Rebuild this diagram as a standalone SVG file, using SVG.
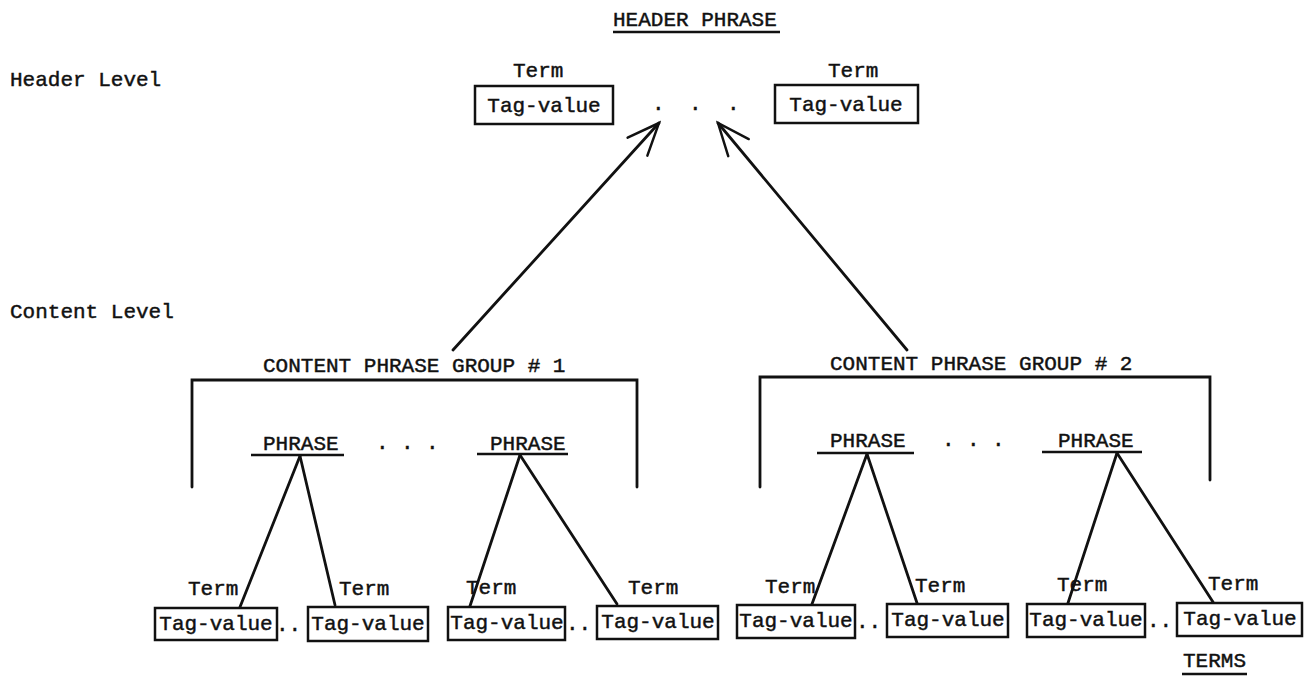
<svg xmlns="http://www.w3.org/2000/svg" width="1304" height="677" viewBox="0 0 1304 677">
<defs>
<style>
.t{font-family:"Liberation Mono","Courier New",monospace;font-size:21px;fill:#111;stroke:#111;stroke-width:0.45}
.m{text-anchor:middle}
.box{fill:none;stroke:#111;stroke-width:2.5}
.ln{fill:none;stroke:#111;stroke-width:2.8;stroke-linecap:round}
.ul{fill:none;stroke:#111;stroke-width:2.4}
</style>
<marker id="vhead" markerUnits="userSpaceOnUse" markerWidth="80" markerHeight="80" refX="0" refY="0" viewBox="-45 -40 90 80" orient="auto" overflow="visible">
<path d="M-36,-15 L0,0 L-36,15" fill="none" stroke="#111" stroke-width="2.8" stroke-linecap="round"/>
</marker>
</defs>
<rect width="1304" height="677" fill="#fff"/>

<g id="header-phrase">
<text class="t" x="613" y="26">HEADER PHRASE</text>
<line class="ul" x1="613" y1="32" x2="780" y2="32"/>
</g>
<g id="level-labels">
<text class="t" x="10" y="86">Header Level</text>
<text class="t" x="10" y="318">Content Level</text>
</g>

<g id="header-term-1">
<text class="t" x="513" y="77">Term</text>
<rect class="box" x="475" y="86" width="138" height="38"/>
<text class="t m" x="544" y="112">Tag-value</text>
</g>
<text class="t" x="652 689 727" y="110">...</text>
<g id="header-term-2">
<text class="t" x="828" y="77">Term</text>
<rect class="box" x="775" y="85" width="143" height="38"/>
<text class="t m" x="846" y="111">Tag-value</text>
</g>

<g id="group-1">
<text class="t" x="263" y="372">CONTENT PHRASE GROUP # 1</text>
<polyline class="ln" points="192,487 192,380 637,380 637,487"/>
</g>
<g id="group-2">
<text class="t" x="830" y="370">CONTENT PHRASE GROUP # 2</text>
<polyline class="ln" points="760,487 760,377 1210,377 1210,480"/>
</g>

<g id="phrase-1">
<text class="t" x="263" y="450">PHRASE</text>
<line class="ul" x1="251" y1="455" x2="344" y2="455"/>
</g>
<text class="t" x="376 401 426" y="449">...</text>
<g id="phrase-2">
<text class="t" x="490" y="450">PHRASE</text>
<line class="ul" x1="477" y1="454" x2="568" y2="454"/>
</g>
<g id="phrase-3">
<text class="t" x="830" y="447">PHRASE</text>
<line class="ul" x1="817" y1="453" x2="914" y2="453"/>
</g>
<text class="t" x="942 967 992" y="446">...</text>
<g id="phrase-4">
<text class="t" x="1058" y="447">PHRASE</text>
<line class="ul" x1="1042" y1="452" x2="1142" y2="452"/>
</g>

<g id="term-1">
<text class="t" x="188" y="595">Term</text>
<rect class="box" x="155" y="608" width="122" height="32"/>
<text class="t m" x="216" y="630">Tag-value</text>
</g>
<text class="t" x="276" y="631">..</text>
<g id="term-2">
<text class="t" x="339" y="595">Term</text>
<rect class="box" x="308" y="607" width="120" height="34"/>
<text class="t m" x="368" y="630">Tag-value</text>
</g>
<g id="term-3">
<text class="t" x="466" y="594">Term</text>
<rect class="box" x="448" y="607" width="117" height="33"/>
<text class="t m" x="507" y="629">Tag-value</text>
</g>
<text class="t" x="566" y="630">..</text>
<g id="term-4">
<text class="t" x="628" y="594">Term</text>
<rect class="box" x="597" y="606" width="121" height="33"/>
<text class="t m" x="658" y="628">Tag-value</text>
</g>
<g id="term-5">
<text class="t" x="765" y="593">Term</text>
<rect class="box" x="737" y="605" width="118" height="33"/>
<text class="t m" x="796" y="627">Tag-value</text>
</g>
<text class="t" x="856" y="628">..</text>
<g id="term-6">
<text class="t" x="915" y="592">Term</text>
<rect class="box" x="887" y="604" width="121" height="33"/>
<text class="t m" x="948" y="626">Tag-value</text>
</g>
<g id="term-7">
<text class="t" x="1057" y="591">Term</text>
<rect class="box" x="1027" y="604" width="118" height="33"/>
<text class="t m" x="1086" y="626">Tag-value</text>
</g>
<text class="t" x="1147" y="627">..</text>
<g id="term-8">
<text class="t" x="1208" y="590">Term</text>
<rect class="box" x="1177" y="603" width="125" height="33"/>
<text class="t m" x="1240" y="625">Tag-value</text>
</g>
<g id="terms-label">
<text class="t" x="1183" y="667">TERMS</text>
<line class="ul" x1="1182" y1="674" x2="1247" y2="674"/>
</g>

<g id="connectors">
<line class="ln" x1="453" y1="350" x2="659" y2="123" marker-end="url(#vhead)"/>
<line class="ln" x1="907" y1="350" x2="718" y2="123" marker-end="url(#vhead)"/>
<line class="ln" x1="300" y1="456" x2="240" y2="607"/>
<line class="ln" x1="300" y1="456" x2="335" y2="605"/>
<line class="ln" x1="520" y1="455" x2="470" y2="606"/>
<line class="ln" x1="520" y1="455" x2="617" y2="604"/>
<line class="ln" x1="867" y1="454" x2="812" y2="604"/>
<line class="ln" x1="867" y1="454" x2="917" y2="603"/>
<line class="ln" x1="1117" y1="453" x2="1068" y2="603"/>
<line class="ln" x1="1117" y1="453" x2="1213" y2="602"/>
</g>
</svg>
